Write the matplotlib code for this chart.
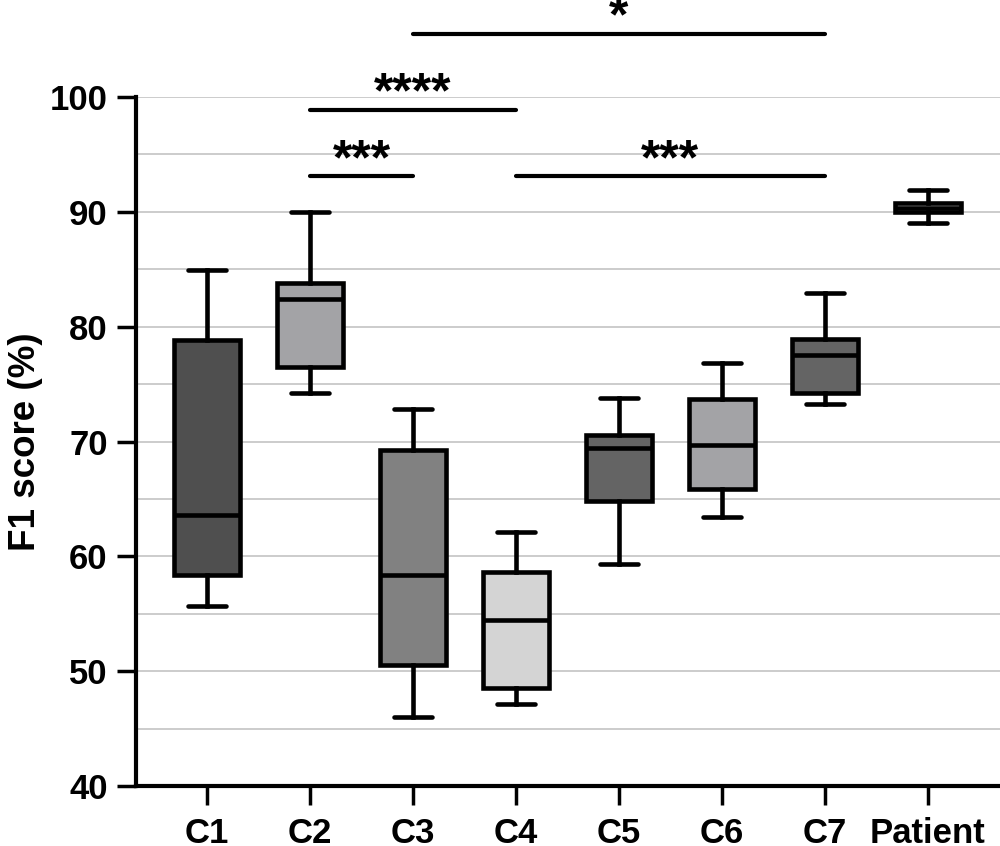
import matplotlib
matplotlib.use("Agg")
import matplotlib.pyplot as plt

# group names and box statistics (F1 score, %)
groups = ["C1", "C2", "C3", "C4", "C5", "C6", "C7", "Patient"]
whisker_low = [55.7, 74.2, 46.0, 47.1, 59.3, 63.4, 73.3, 89.0]
q1 = [58.4, 76.5, 50.5, 48.5, 64.8, 65.9, 74.2, 90.0]
median = [63.6, 82.4, 58.4, 54.5, 69.4, 69.7, 77.5, 90.35]
q3 = [78.8, 83.8, 69.3, 58.6, 70.6, 73.7, 78.9, 90.8]
whisker_high = [84.9, 90.0, 72.8, 62.1, 73.8, 76.8, 82.9, 91.9]
fill_colors = ["#4f4f4f", "#a3a3a6", "#818181", "#d4d4d4",
               "#646464", "#a3a3a6", "#646464", "#dcdcdc"]

# significance brackets: (from group, to group, height, label)
sig_from = ["C2", "C2", "C4", "C3"]
sig_to = ["C3", "C4", "C7", "C7"]
sig_y = [93.1, 98.9, 93.1, 105.5]
sig_text = ["***", "****", "***", "*"]

plt.rcParams["font.family"] = ["Liberation Sans", "DejaVu Sans"]
plt.rcParams["font.weight"] = "bold"

fig = plt.figure(figsize=(10, 8.46), dpi=100)
ax = fig.add_axes([0.136, 0.0709, 0.864, 0.8144])

stats = []
for i, g in enumerate(groups):
    stats.append({"label": g, "whislo": whisker_low[i], "q1": q1[i], "med": median[i],
                  "q3": q3[i], "whishi": whisker_high[i], "fliers": []})

pos = list(range(len(groups)))
lw = 3.3
bp = ax.bxp(stats, positions=pos, widths=0.64, patch_artist=True, showfliers=False,
            capwidths=0.37,
            boxprops=dict(linewidth=lw, edgecolor="black"),
            medianprops=dict(linewidth=lw, color="black"),
            whiskerprops=dict(linewidth=lw, color="black"),
            capprops=dict(linewidth=lw, color="black", solid_capstyle="round"))
for patch, c in zip(bp["boxes"], fill_colors):
    patch.set_facecolor(c)
    patch.set_zorder(3)
for key in ["medians", "whiskers", "caps"]:
    for ln in bp[key]:
        ln.set_zorder(3)

ax.set_xlim(-0.69, 7.70)
ax.set_ylim(40, 100)
ax.set_yticks(range(40, 101, 10))
ax.set_yticks(range(45, 100, 10), minor=True)
ax.yaxis.grid(True, which="both", color="#c8c8c8", linewidth=1.3, zorder=0)
ax.set_axisbelow(True)
ax.tick_params(axis="y", which="minor", length=0)
ax.tick_params(axis="y", which="major", length=13.5, width=2.5, pad=7, labelsize=25)
ax.tick_params(axis="x", length=13.5, width=2.5, pad=8.5, labelsize=25)
ax.set_xticks(pos)
ax.set_xticklabels(groups, fontweight="bold")
for lab in ax.get_yticklabels():
    lab.set_fontweight("bold")

for side in ["top", "right"]:
    ax.spines[side].set_visible(False)
for side in ["left", "bottom"]:
    ax.spines[side].set_linewidth(3.0)

ax.set_ylabel("F1 score (%)", fontsize=26.5, fontweight="bold")
ax.yaxis.set_label_coords(-0.108, 0.5)

for a, b, y, t in zip(sig_from, sig_to, sig_y, sig_text):
    x1 = groups.index(a)
    x2 = groups.index(b)
    ax.plot([x1, x2], [y, y], color="black", linewidth=3.0, solid_capstyle="round",
            clip_on=False, zorder=4)
    ax.text((x1 + x2) / 2, y + 0.2, t, ha="center", va="baseline", fontsize=36,
            fontweight="bold", clip_on=False)

fig.savefig("out.png", dpi=100)
